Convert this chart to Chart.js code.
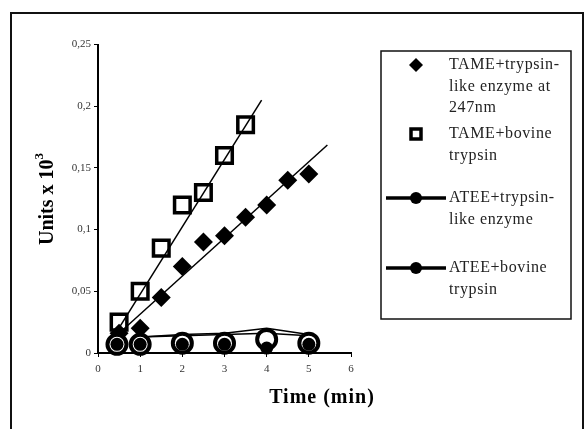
<!DOCTYPE html>
<html lang="en">

<head>
    <meta charset="UTF-8">
    <title>Units vs time</title>
    <script src="https://cdn.jsdelivr.net/npm/chart.js"></script>
    <style>
        body { margin: 0; background: #fff; }
        canvas { display: block; }
    </style>
</head>

<body>
    <canvas id="chart" width="585" height="429"></canvas>

    <script>
        // TAME + trypsin-like enzyme at 247nm (diamonds)
        const tameLikeX = [0.5, 1, 1.5, 2, 2.5, 3, 3.5, 4, 4.5, 5];
        const tameLikeY = [0.016, 0.02, 0.045, 0.07, 0.09, 0.095, 0.11, 0.12, 0.14, 0.145];
        // TAME + bovine trypsin (squares)
        const tameBovX = [0.5, 1, 1.5, 2, 2.5, 3, 3.5];
        const tameBovY = [0.025, 0.05, 0.085, 0.12, 0.13, 0.16, 0.185];
        // ATEE series (circles)
        const ateeX = [0.45, 1, 2, 3, 4, 5];
        const ateeLikeY = [0.007, 0.007, 0.007, 0.007, 0.004, 0.007];
        const ateeBovY = [0.007, 0.007, 0.008, 0.008, 0.011, 0.008];
        // connecting lines drawn above the ATEE points
        const ateeLineX = [1, 2, 3, 4, 5];
        const ateeLineAY = [0.013, 0.015, 0.016, 0.020, 0.015];
        const ateeLineBY = [0.013, 0.014, 0.015, 0.016, 0.014];
        // linear fit lines (start and end points)
        const fitLikeX = [0.5, 5.44];
        const fitLikeY = [0.016, 0.1686];
        const fitBovX = [0.5, 3.88];
        const fitBovY = [0.0203, 0.205];

        const xTicks = [0, 1, 2, 3, 4, 5, 6];
        const yTicks = [0, 0.05, 0.1, 0.15, 0.2, 0.25];

        const legendItems = [
            ['TAME+trypsin-', 'like enzyme at', '247nm'],
            ['TAME+bovine', 'trypsin'],
            ['ATEE+trypsin-', 'like enzyme'],
            ['ATEE+bovine', 'trypsin']
        ];

        const serif = '"Liberation Serif", "Times New Roman", serif';

        function pts(xs, ys) {
            return xs.map((x, i) => ({ x: x, y: ys[i] }));
        }

        function fmt(v) {
            return String(+v.toFixed(2)).replace('.', ',');
        }

        // titles, frame and legend box
        const decor = {
            id: 'decor',
            afterDraw(chart) {
                const c = chart.ctx;
                c.save();
                // outer frame
                c.strokeStyle = '#111';
                c.lineWidth = 2;
                c.strokeRect(11, 13, 572, 430);

                // y title
                c.fillStyle = '#000';
                c.translate(48, 199);
                c.rotate(-Math.PI / 2);
                c.font = 'bold 20px ' + serif;
                c.textBaseline = 'middle';
                const main = 'Units x 10';
                const w1 = c.measureText(main).width;
                c.font = 'bold 13px ' + serif;
                const w2 = c.measureText('3').width;
                const start = -(w1 + w2) / 2;
                c.font = 'bold 20px ' + serif;
                c.textAlign = 'left';
                c.fillText(main, start, 0);
                c.font = 'bold 13px ' + serif;
                c.fillText('3', start + w1, -8);
                c.setTransform(1, 0, 0, 1, 0, 0);

                // x title
                c.font = 'bold 20px ' + serif;
                c.letterSpacing = '1px';
                c.textAlign = 'center';
                c.textBaseline = 'middle';
                c.fillText('Time (min)', 322, 398);

                // legend
                c.lineWidth = 1.5;
                c.strokeStyle = '#111';
                c.strokeRect(381, 51, 190, 268);
                c.fillStyle = '#222';
                c.font = '16px ' + serif;
                c.letterSpacing = '0.6px';
                c.textAlign = 'left';
                const rows = [65, 134, 198, 268];
                legendItems.forEach((lines, i) => {
                    const y = rows[i];
                    lines.forEach((t, j) => c.fillText(t, 449, y + j * 21.5));
                    c.fillStyle = '#000';
                    c.strokeStyle = '#000';
                    if (i === 0) {
                        c.beginPath();
                        c.moveTo(416, y - 7);
                        c.lineTo(423, y);
                        c.lineTo(416, y + 7);
                        c.lineTo(409, y);
                        c.closePath();
                        c.fill();
                    } else if (i === 1) {
                        c.lineWidth = 3.5;
                        c.strokeRect(411, y - 5, 10, 10);
                    } else {
                        c.lineWidth = 3.5;
                        c.beginPath();
                        c.moveTo(386, y);
                        c.lineTo(446, y);
                        c.stroke();
                        c.beginPath();
                        c.arc(416, y, 6, 0, Math.PI * 2);
                        c.fill();
                    }
                    c.fillStyle = '#222';
                });
                c.restore();
            }
        };

        const config = {
            type: 'scatter',
            data: {
                datasets: [
                    {
                        label: 'fit like',
                        data: pts(fitLikeX, fitLikeY),
                        showLine: true, pointRadius: 0,
                        borderColor: '#000', borderWidth: 1.5, order: 0
                    },
                    {
                        label: 'fit bovine',
                        data: pts(fitBovX, fitBovY),
                        showLine: true, pointRadius: 0,
                        borderColor: '#000', borderWidth: 1.5, order: 0
                    },
                    {
                        label: 'ATEE+trypsin-like enzyme',
                        data: pts(ateeX, ateeLikeY),
                        pointStyle: 'circle', pointRadius: 6.5,
                        backgroundColor: '#000', borderColor: '#000', borderWidth: 0,
                        clip: false, order: 1
                    },
                    {
                        label: 'ATEE+bovine trypsin',
                        data: pts(ateeX, ateeBovY),
                        pointStyle: 'circle', pointRadius: 9.5,
                        backgroundColor: '#fff', borderColor: '#000', borderWidth: 4,
                        clip: false, order: 2
                    },
                    {
                        label: 'ATEE line a',
                        data: pts(ateeLineX, ateeLineAY),
                        showLine: true, pointRadius: 0,
                        borderColor: '#000', borderWidth: 1.5, order: 3
                    },
                    {
                        label: 'ATEE line b',
                        data: pts(ateeLineX, ateeLineBY),
                        showLine: true, pointRadius: 0,
                        borderColor: '#000', borderWidth: 1.5, order: 3
                    },
                    {
                        label: 'TAME+trypsin-like enzyme at 247nm',
                        data: pts(tameLikeX, tameLikeY),
                        pointStyle: 'rectRot', pointRadius: 9.5,
                        backgroundColor: '#000', borderColor: '#000', borderWidth: 0,
                        clip: false, order: 4
                    },
                    {
                        label: 'TAME+bovine trypsin',
                        data: pts(tameBovX, tameBovY),
                        pointStyle: 'rect', pointRadius: 11,
                        backgroundColor: 'rgba(255,255,255,0)', borderColor: '#000', borderWidth: 3.5,
                        clip: false, order: 4
                    }
                ]
            },
            options: {
                responsive: false,
                animation: false,
                events: [],
                layout: {
                    padding: { top: 44.5, right: 234, left: 0, bottom: 0 }
                },
                scales: {
                    x: {
                        type: 'linear',
                        min: 0,
                        max: 6,
                        afterFit: (s) => { s.height = 76; },
                        afterBuildTicks: (s) => { s.ticks = xTicks.map(v => ({ value: v })); },
                        ticks: {
                            color: '#333',
                            font: { family: serif, size: 11 },
                            padding: 6,
                            callback: fmt
                        },
                        grid: { drawOnChartArea: false, color: '#000', tickLength: 4 },
                        border: { color: '#000', width: 2 }
                    },
                    y: {
                        min: 0,
                        max: 0.25,
                        afterFit: (s) => { s.width = 98; },
                        afterBuildTicks: (s) => { s.ticks = yTicks.map(v => ({ value: v })); },
                        ticks: {
                            color: '#333',
                            font: { family: serif, size: 11 },
                            padding: 3,
                            callback: fmt
                        },
                        grid: { drawOnChartArea: false, color: '#000', tickLength: 4 },
                        border: { color: '#000', width: 2 }
                    }
                },
                plugins: {
                    legend: { display: false },
                    tooltip: { enabled: false }
                }
            },
            plugins: [decor]
        };

        new Chart(document.getElementById('chart').getContext('2d'), config);
    </script>
</body>

</html>
